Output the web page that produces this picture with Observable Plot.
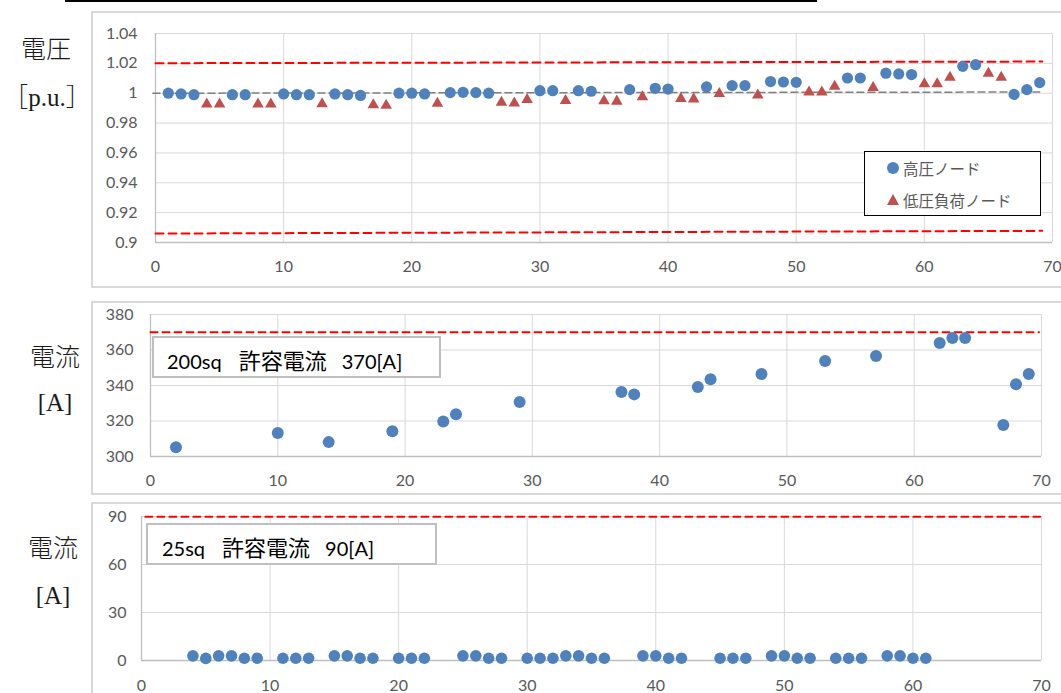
<!DOCTYPE html>
<html>
<head>
<meta charset="utf-8">
<script src="https://cdn.jsdelivr.net/npm/d3@7"></script>
<script src="https://cdn.jsdelivr.net/npm/@observablehq/plot@0.6"></script>
<style>
  html, body { margin: 0; padding: 0; background: #fff; }
  #root { position: relative; width: 1061px; height: 693px; overflow: hidden; background: #fff; }
  .abs { position: absolute; }
  .frame { position: absolute; border: 2px solid #d9d9d9; box-sizing: border-box; width: 1100px; }
  .ylab { position: absolute; text-align: center; font-family: "Liberation Serif", "Noto Sans CJK JP", serif; font-size: 25px; font-weight: 300; color: #1a1a1a; line-height: 25px; white-space: nowrap; }
  .note { position: absolute; border: 2px solid #bfbfbf; box-sizing: border-box; background: #fff; }
  .noteText { position: absolute; font-family: Lato, "Noto Sans CJK JP", sans-serif; font-size: 20px; color: #000; line-height: 22px; white-space: nowrap; }
  .cjk { font-family: "Noto Sans CJK JP", sans-serif; }
  .legend { position: absolute; border: 1.5px solid #000; box-sizing: border-box; background: #fff; }
  .legText { position: absolute; font-family: "Noto Sans CJK JP", sans-serif; font-size: 15.5px; color: #595959; line-height: 16px; white-space: nowrap; }
</style>
</head>
<body>
<div id="root"></div>
<script>
// ---------- data ----------
const xTicks = [0, 10, 20, 30, 40, 50, 60, 70];
const voltTicks = [0.9, 0.92, 0.94, 0.96, 0.98, 1, 1.02, 1.04];
const cur200Ticks = [300, 320, 340, 360, 380];
const cur25Ticks = [0, 30, 60, 90];

const seriesNames = ["高圧ノード", "低圧負荷ノード"];

// 高圧ノード (circles)
const hvNodes = [1,2,3,6,7,10,11,12,14,15,16,19,20,21,23,24,25,26,30,31,33,34,37,39,40,43,45,46,48,49,50,54,55,57,58,59,63,64,67,68,69];
const hvVolt  = [1.000,0.9995,0.999,0.999,0.999,0.9995,0.999,0.999,0.9995,0.999,0.9985,1.000,1.000,0.9995,1.0004,1.0006,1.0004,1.000,1.0017,1.0017,1.0017,1.0013,1.0024,1.0033,1.0028,1.0042,1.0051,1.0051,1.0078,1.0075,1.0073,1.0102,1.0102,1.0134,1.0129,1.0125,1.018,1.0191,0.9992,1.0024,1.0071];

// 低圧負荷ノード (triangles)
const lvNodes = [4,5,8,9,13,17,18,22,27,28,29,32,35,36,38,41,42,44,47,51,52,53,56,60,61,62,65,66];
const lvVolt  = [0.9939,0.9939,0.9939,0.9939,0.9941,0.9934,0.9931,0.9944,0.9951,0.9946,0.9969,0.9962,0.9960,0.9958,0.9987,0.9976,0.9973,1.0009,0.9999,1.0019,1.0019,1.0057,1.0049,1.0075,1.0075,1.0118,1.0144,1.0118];

// voltage reference lines [node, p.u.]
const voltUpper = [[0, 1.0201], [69.2, 1.0212]];
const voltLower = [[0, 0.906], [69.2, 0.9078]];
const voltNominal = [[-0.2, 1.0], [69, 1.0008]];

// 200sq line current
const cur200Nodes = [2,10,14,19,23,24,29,37,38,43,44,48,53,57,62,63,64,67,68,69];
const cur200 = [305.2,313.3,308.1,314.2,319.7,323.8,330.7,336.3,335.0,339.2,343.5,346.5,353.8,356.6,363.9,366.7,366.7,317.8,340.7,346.5];
const cur200Limit = [[0, 370], [69.8, 370]];
const cur200Note = ["200sq", "許容電流", "370[A]"];

// 25sq line current
const cur25Nodes = [4,5,6,7,8,9,11,12,13,15,16,17,18,20,21,22,25,26,27,28,30,31,32,33,34,35,36,39,40,41,42,45,46,47,49,50,51,52,54,55,56,58,59,60,61];
const cur25 = [2.9,1.3,2.9,2.9,1.4,1.4,1.4,1.4,1.4,2.9,2.9,1.4,1.4,1.4,1.4,1.4,2.9,2.9,1.4,1.4,1.4,1.4,1.4,2.9,2.9,1.4,1.4,2.9,2.9,1.4,1.4,1.4,1.4,1.4,2.9,2.9,1.4,1.4,1.4,1.4,1.4,2.9,2.9,1.4,1.4];
const cur25Limit = [[0.3, 89.9], [69.9, 89.8]];
const cur25Note = ["25sq", "許容電流", "90[A]"];

const blue = "#4f81bd";
const red = "#c0504d";

// ---------- build ----------
const root = document.getElementById("root");
function add(html) { root.insertAdjacentHTML("beforeend", html); }

const hvData = hvNodes.map((n, i) => ({n, v: hvVolt[i]}));
const lvData = lvNodes.map((n, i) => ({n, v: lvVolt[i]}));
const c200Data = cur200Nodes.map((n, i) => ({n, v: cur200[i]}));
const c25Data = cur25Nodes.map((n, i) => ({n, v: cur25[i]}));

function makePanel(o) {
  return Plot.plot({
    width: o.w, height: o.h,
    marginLeft: o.ml, marginRight: o.mr, marginTop: o.mt, marginBottom: o.mb,
    style: {background: "transparent", color: "#595959", fontFamily: "Lato, 'Noto Sans', sans-serif", fontSize: "16px", overflow: "visible"},
    x: {domain: [0, 70]},
    y: {domain: o.yDomain},
    marks: [
      Plot.gridX(xTicks, {stroke: "#d9d9d9", strokeOpacity: 1, strokeWidth: 1}),
      Plot.gridY(o.yTicks, {stroke: "#d9d9d9", strokeOpacity: 1, strokeWidth: 1}),
      Plot.ruleX([0], {stroke: "#bfbfbf", strokeWidth: 1.3}),
      Plot.ruleY([o.yDomain[0]], {stroke: "#bfbfbf", strokeWidth: 1.3}),
      Plot.axisX(xTicks, {tickSize: 0, tickPadding: o.xPad, label: null, tickFormat: d => String(d)}),
      Plot.axisY(o.yTicks, {tickSize: 0, tickPadding: o.yPad, label: null, tickFormat: o.yFmt}),
      ...o.marks
    ]
  });
}

function place(svg, left, top) {
  svg.style.position = "absolute";
  svg.style.left = left + "px";
  svg.style.top = top + "px";
  root.appendChild(svg);
}

// top black rule (cut-off header underline)
add(`<div class="abs" style="left:65px;top:0;width:752px;height:2px;background:#000"></div>`);

// frames
add(`<div class="frame" style="left:91px;top:11px;height:277px"></div>`);
add(`<div class="frame" style="left:91px;top:301px;height:194px"></div>`);
add(`<div class="frame" style="left:91px;top:502px;height:300px"></div>`);

// panel 1: voltage
const p1 = makePanel({
  w: 968, h: 273, ml: 62, mr: 9, mt: 20, mb: 44,
  yDomain: [0.9, 1.04], yTicks: voltTicks, yPad: 18, xPad: 18,
  yFmt: d => String(+d.toFixed(2)),
  marks: [
    Plot.line(voltNominal, {x: d => d[0], y: d => d[1], stroke: "#808080", strokeWidth: 1.5, strokeDasharray: "7,4"}),
    Plot.line(voltUpper, {x: d => d[0], y: d => d[1], stroke: "#ff0000", strokeWidth: 2, strokeDasharray: "8,5"}),
    Plot.line(voltLower, {x: d => d[0], y: d => d[1], stroke: "#ff0000", strokeWidth: 2, strokeDasharray: "8,5"}),
    Plot.dot(hvData, {x: "n", y: "v", r: 5.6, fill: blue, stroke: "none"}),
    Plot.dot(lvData, {x: "n", y: "v", r: 4.3, symbol: "triangle", fill: red, stroke: "none", dy: 1.8})
  ]
});
place(p1, 93, 13);

// panel 2: 200sq current
const p2 = makePanel({
  w: 968, h: 189, ml: 57, mr: 20, mt: 11, mb: 36,
  yDomain: [300, 380], yTicks: cur200Ticks, yPad: 17, xPad: 18,
  yFmt: d => String(d),
  marks: [
    Plot.line(cur200Limit, {x: d => d[0], y: d => d[1], stroke: "#ff0000", strokeWidth: 2, strokeDasharray: "7,5"}),
    Plot.dot(c200Data, {x: "n", y: "v", r: 6, fill: blue, stroke: "none"})
  ]
});
place(p2, 93, 303);

// panel 3: 25sq current
const p3 = makePanel({
  w: 968, h: 189, ml: 48, mr: 20, mt: 12, mb: 33,
  yDomain: [0, 90], yTicks: cur25Ticks, yPad: 15, xPad: 19,
  yFmt: d => String(d),
  marks: [
    Plot.line(cur25Limit, {x: d => d[0], y: d => d[1], stroke: "#ff0000", strokeWidth: 2, strokeDasharray: "7,5"}),
    Plot.dot(c25Data, {x: "n", y: "v", r: 5.8, fill: blue, stroke: "none"})
  ]
});
place(p3, 93, 504);

// left axis titles
add(`<div class="ylab" style="left:0;width:92px;top:37px">電圧</div>`);
add(`<div class="ylab" style="left:0;width:94px;top:85px">［p.u.］</div>`);
add(`<div class="ylab" style="left:10px;width:90px;top:345px">電流</div>`);
add(`<div class="ylab" style="left:10px;width:90px;top:390px">[A]</div>`);
add(`<div class="ylab" style="left:8px;width:90px;top:536px">電流</div>`);
add(`<div class="ylab" style="left:8px;width:90px;top:583px">[A]</div>`);

// legend (panel 1)
add(`<div class="legend" style="left:864px;top:151px;width:177px;height:65px"></div>`);
add(`<svg class="abs" style="left:886px;top:161px" width="14" height="14"><circle cx="7" cy="7" r="6" fill="${blue}"/></svg>`);
add(`<div class="legText" style="left:903px;top:160px">${seriesNames[0]}</div>`);
add(`<svg class="abs" style="left:886px;top:193px" width="14" height="14"><path d="M7,1 L13,12 L1,12 Z" fill="${red}"/></svg>`);
add(`<div class="legText" style="left:903px;top:192px">${seriesNames[1]}</div>`);

// annotation boxes
add(`<div class="note" style="left:152px;top:336px;width:289px;height:42px"></div>`);
add(`<div class="noteText" style="left:167px;top:348px">${cur200Note[0]}<span style="font-size:17px">　</span><span class="cjk" style="font-size:22px">${cur200Note[1]}</span><span style="font-size:15px">　</span>${cur200Note[2]}</div>`);
add(`<div class="note" style="left:146px;top:523px;width:291px;height:42px"></div>`);
add(`<div class="noteText" style="left:162px;top:535px">${cur25Note[0]}<span style="font-size:17px">　</span><span class="cjk" style="font-size:22px">${cur25Note[1]}</span><span style="font-size:15px">　</span>${cur25Note[2]}</div>`);
</script>
</body>
</html>
